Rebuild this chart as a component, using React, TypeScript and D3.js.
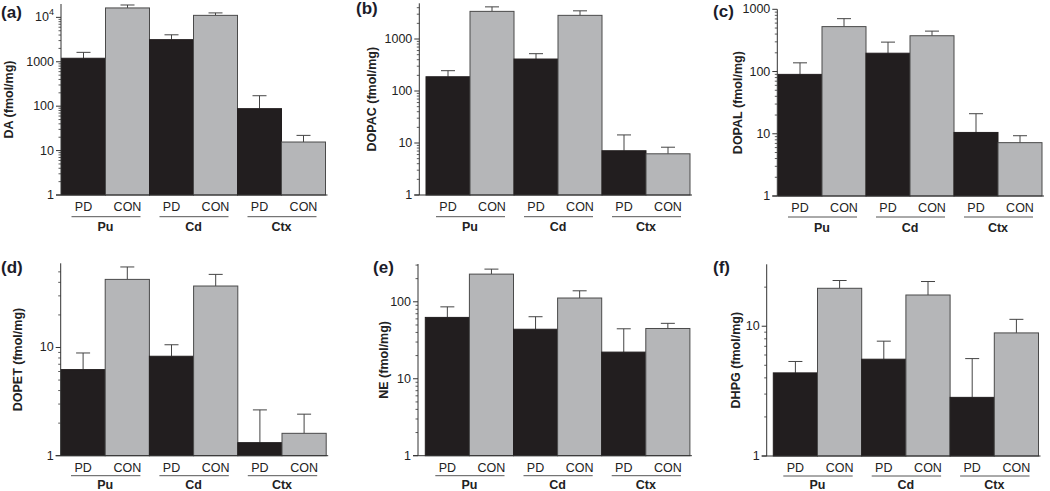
import React from "react";
import * as d3 from "d3";

const groups = ["Pu", "Cd", "Ctx"];
const conditions = ["PD", "CON"];

const daMean = [1200, 16300, 3150, 11100, 88, 15.6];
const daSem = [430, 2700, 900, 1500, 84, 6.4];
const dopacMean = [188, 3400, 412, 2850, 7.1, 6.2];
const dopacSem = [58, 750, 110, 630, 7.2, 2.1];
const dopalMean = [90, 527, 197, 376, 10.5, 7.2];
const dopalSem = [48, 180, 100, 70, 10.5, 2.1];
const dopetMean = [6.25, 42.6, 8.3, 37, 1.32, 1.61];
const dopetSem = [2.65, 12.9, 2.3, 10.4, 1.33, 0.81];
const neMean = [62.7, 229, 44, 112, 22.2, 45];
const neSem = [23.3, 37, 20, 27, 22.4, 7.5];
const dhpgMean = [4.37, 19.6, 5.57, 17.4, 2.83, 8.88];
const dhpgSem = [0.98, 2.9, 2.1, 4.7, 2.8, 2.42];

const ticksA = [1, 10, 100, 1000, 10000];
const ticksB = [1, 10, 100, 1000];
const ticksC = [1, 10, 100, 1000];
const ticksD = [1, 10];
const ticksE = [1, 10, 100];
const ticksF = [1, 10];

const FONT = "'Liberation Sans', Arial, Helvetica, sans-serif";
const DARK = "#221e1f";
const GREY = "#b5b6b8";
const AXIS = "#333";

type PanelProps = {
  letter: string;
  title: string;
  mean: number[];
  sem: number[];
  ticks: number[];
  yMax: number;
  axisX: number;
  barStart: number;
  barW: number;
  yTop: number;
  yBottom: number;
  titleX: number;
  letterX: number;
  letterY: number;
  lineOff: number;
  groupOff: number;
};

function Panel(p: PanelProps) {
  const keys: string[] = [];
  groups.forEach((g) => conditions.forEach((c) => keys.push(g + "-" + c)));
  const x = d3
    .scaleBand<string>()
    .domain(keys)
    .range([p.barStart, p.barStart + p.barW * keys.length])
    .padding(0);
  const y = d3.scaleLog().domain([1, p.yMax]).range([p.yBottom, p.yTop]);
  const bw = x.bandwidth();
  const minor: number[] = [];
  for (let e = 0; e < 6; e++) {
    for (let m = 2; m <= 9; m++) {
      const v = m * Math.pow(10, e);
      if (v < p.yMax) minor.push(v);
    }
  }
  const xEnd = p.barStart + p.barW * keys.length + 2;
  const labelY = p.yBottom + 16;
  const lineY = p.yBottom + p.lineOff;
  const groupY = p.yBottom + p.groupOff;
  return (
    <g>
      <text x={p.letterX} y={p.letterY} fontFamily={FONT} fontWeight="bold" fontSize={17} fill="#1c1c2a">
        ({p.letter})
      </text>
      <text
        transform={`translate(${p.titleX},${(p.yTop + p.yBottom) / 2}) rotate(-90)`}
        textAnchor="middle"
        dominantBaseline="central"
        fontFamily={FONT}
        fontWeight="bold"
        fontSize={12.5}
        fill="#222"
      >
        {p.title}
      </text>
      {keys.map((k, i) => {
        const v = p.mean[i];
        const top = v + p.sem[i];
        const cx = (x(k) as number) + bw / 2;
        const isPD = i % 2 === 0;
        return (
          <g key={k}>
            <line x1={cx} x2={cx} y1={y(v)} y2={y(top)} stroke="#444" strokeWidth={1} />
            <line x1={cx - 7} x2={cx + 7} y1={y(top)} y2={y(top)} stroke="#444" strokeWidth={1} />
            <rect
              x={x(k) as number}
              y={y(v)}
              width={bw}
              height={p.yBottom - y(v)}
              fill={isPD ? DARK : GREY}
              stroke={isPD ? DARK : "#4a4a4a"}
              strokeWidth={1}
            />
          </g>
        );
      })}
      <line x1={p.axisX} x2={p.axisX} y1={p.yTop} y2={p.yBottom} stroke={AXIS} strokeWidth={1} />
      <line x1={p.axisX - 5} x2={xEnd} y1={p.yBottom} y2={p.yBottom} stroke={AXIS} strokeWidth={1} />
      {minor.map((v) => (
        <line key={"m" + v} x1={p.axisX - 2.5} x2={p.axisX} y1={y(v)} y2={y(v)} stroke={AXIS} strokeWidth={0.8} />
      ))}
      {p.ticks.map((t) => (
        <g key={"t" + t}>
          <line x1={p.axisX - 5} x2={p.axisX} y1={y(t)} y2={y(t)} stroke={AXIS} strokeWidth={1} />
          <text
            x={p.axisX - 7}
            y={y(t)}
            textAnchor="end"
            dominantBaseline="central"
            fontFamily={FONT}
            fontSize={12.5}
            fill="#222"
          >
            {t >= 10000 ? (
              <>
                10<tspan dy={-5} fontSize={9}>{Math.round(Math.log10(t))}</tspan>
              </>
            ) : (
              String(t)
            )}
          </text>
        </g>
      ))}
      {keys.map((k, i) => (
        <text
          key={"l" + k}
          x={(x(k) as number) + bw / 2}
          y={labelY}
          textAnchor="middle"
          fontFamily={FONT}
          fontSize={12.5}
          fill="#222"
        >
          {conditions[i % 2]}
        </text>
      ))}
      {groups.map((g) => {
        const gx0 = x(g + "-" + conditions[0]) as number;
        const gx1 = (x(g + "-" + conditions[1]) as number) + bw;
        return (
          <g key={"g" + g}>
            <line x1={gx0 + 10} x2={gx1 - 9} y1={lineY} y2={lineY} stroke="#555" strokeWidth={1} />
            <text
              x={(gx0 + gx1) / 2}
              y={groupY}
              textAnchor="middle"
              fontFamily={FONT}
              fontWeight="bold"
              fontSize={12.5}
              fill="#222"
            >
              {g}
            </text>
          </g>
        );
      })}
    </g>
  );
}

export default function App() {
  return (
    <svg
      width={1050}
      height={491}
      viewBox="0 0 1050 491"
      style={{ position: "absolute", left: 0, top: 0, background: "#fff" }}
    >
      <rect x={0} y={0} width={1050} height={491} fill="#fff" />
      <Panel letter="a" title="DA (fmol/mg)" mean={daMean} sem={daSem} ticks={ticksA} yMax={20000}
        axisX={61} barStart={61.5} barW={44} yTop={4} yBottom={195} titleX={9} letterX={1} letterY={18}
        lineOff={21.7} groupOff={36} />
      <Panel letter="b" title="DOPAC (fmol/mg)" mean={dopacMean} sem={dopacSem} ticks={ticksB} yMax={4860}
        axisX={419.3} barStart={426} barW={44} yTop={3.3} yBottom={195} titleX={372} letterX={356} letterY={14}
        lineOff={21.7} groupOff={36} />
      <Panel letter="c" title="DOPAL (fmol/mg)" mean={dopalMean} sem={dopalSem} ticks={ticksC} yMax={1000}
        axisX={777.3} barStart={778} barW={44} yTop={9.3} yBottom={196} titleX={737.5} letterX={713} letterY={17}
        lineOff={21} groupOff={35.5} />
      <Panel letter="d" title="DOPET (fmol/mg)" mean={dopetMean} sem={dopetSem} ticks={ticksD} yMax={60}
        axisX={60.7} barStart={61} barW={44.2} yTop={263.3} yBottom={455.7} titleX={17.5} letterX={1} letterY={273}
        lineOff={20} groupOff={33} />
      <Panel letter="e" title="NE (fmol/mg)" mean={neMean} sem={neSem} ticks={ticksE} yMax={310}
        axisX={418} barStart={425.3} barW={44.1} yTop={264} yBottom={455.7} titleX={384} letterX={373} letterY={273}
        lineOff={20} groupOff={33} />
      <Panel letter="f" title="DHPG (fmol/mg)" mean={dhpgMean} sem={dhpgSem} ticks={ticksF} yMax={30}
        axisX={766.7} barStart={773.3} barW={44.2} yTop={264.3} yBottom={456} titleX={736} letterX={713} letterY={273}
        lineOff={20} groupOff={33} />
    </svg>
  );
}
